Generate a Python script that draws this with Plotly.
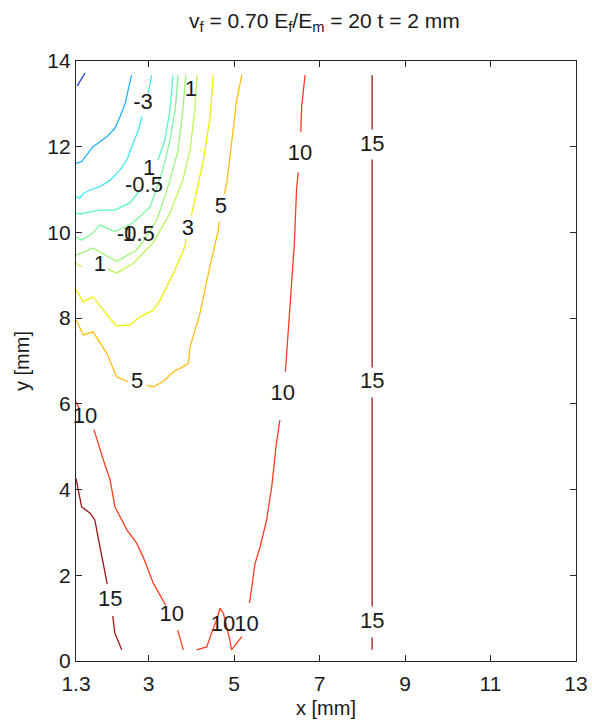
import plotly.graph_objects as go

# ---- contour polylines (x, y in mm); None breaks a line where its label sits ----
lvl_m5_x = [1.33, 1.42, 1.51]
lvl_m5_y = [13.42, 13.56, 13.72]

lvl_m4_x = [2.60, 2.52, 2.45, 2.33, 2.21, 2.02, 1.86, 1.70, 1.55, 1.43, 1.30]
lvl_m4_y = [13.67, 13.32, 13.01, 12.70, 12.43, 12.23, 12.12, 12.00, 11.81, 11.65, 11.61]

lvl_m3_x = [3.07, 2.99, None, 2.84, 2.76, 2.64, 2.49, 2.33, 2.10, 1.86, 1.63, 1.47, 1.39, 1.30]
lvl_m3_y = [13.67, 13.25, None, 12.70, 12.39, 12.08, 11.69, 11.46, 11.22, 11.07, 10.99, 10.91, 10.80, 10.83]

lvl_m1_x = [3.57, 3.50, 3.38, 3.22, None, 2.80, 2.63, 2.56, 2.21, 1.86, 1.63, 1.39, 1.30]
lvl_m1_y = [13.67, 12.86, 12.16, 11.69, None, 10.99, 10.76, 10.69, 10.52, 10.52, 10.48, 10.43, 10.45]

lvl_m05_x = [3.69, 3.62, 3.50, 3.36, 3.22, 3.03, 2.63, 2.21, 1.86, 1.70, 1.44, 1.30]
lvl_m05_y = [13.67, 12.86, 12.16, 11.57, 11.11, 10.59, 10.22, 10.02, 10.17, 9.99, 9.82, 9.89]

lvl_05_x = [3.87, 3.80, 3.69, 3.50, 3.31, 3.19, 2.95, 2.72, 2.25, 1.70, 1.30]
lvl_05_y = [13.67, 12.86, 11.92, 11.22, 10.64, 10.29, 9.90, 9.59, 9.32, 9.64, 9.47]

lvl_1_x = [4.13, 4.08, 3.97, 3.80, 3.62, 3.50, 3.10, 2.64, 2.25, 2.05, None, 1.43, 1.30]
lvl_1_y = [13.67, 12.86, 11.92, 11.22, 10.76, 10.45, 9.75, 9.28, 9.05, 9.15, None, 9.20, 9.28]

lvl_3_x = [4.51, 4.44, 4.28, 4.12, 4.00, None, 3.87, 3.85, 3.58, 3.27, 3.11, 2.80, 2.56, 2.25, 2.06, 1.70, 1.47, 1.30]
lvl_3_y = [13.67, 12.70, 11.69, 10.91, 10.40, None, 9.85, 9.67, 9.05, 8.42, 8.19, 8.03, 7.84, 7.82, 8.03, 8.50, 8.38, 8.66]

lvl_5_x = [5.18, 5.06, 4.94, 4.83, 4.77, None, 4.65, 4.63, 4.40, 4.20, 3.97, 3.93, 3.81, 3.58, 3.34, 3.11, 2.95,
           None, 2.52, 2.25, 2.02, 1.70, 1.47, 1.30]
lvl_5_y = [13.67, 13.09, 12.09, 11.15, 10.90, None, 10.25, 10.06, 9.05, 8.11, 7.33, 6.95, 6.87, 6.75, 6.52, 6.40, 6.43,
           None, 6.52, 6.63, 7.18, 7.68, 7.61, 7.96]

lvl_10a_x = [6.66, 6.58, 6.56, None, 6.50, 6.46, 6.41, 6.31, 6.20, None, 6.07, 5.99, 5.88, 5.76, 5.61, 5.49, 5.36,
             None, 5.18, 5.06, 4.94, 4.90, 4.83, 4.75, 4.67, 4.59, 4.47, 4.36, 4.12]
lvl_10a_y = [13.67, 12.93, 12.35, None, 11.40, 10.99, 9.75, 8.42, 6.75, None, 5.62, 5.08, 4.07, 3.29, 2.67, 2.28, 1.35,
             None, 0.57, 0.41, 0.26, 0.49, 0.80, 1.11, 1.23, 0.96, 0.65, 0.33, 0.26]

lvl_10b_x = [3.81, 3.68, None, 3.40, 3.11, 2.87, 2.72, 2.49, 2.21, 2.10, 1.94, 1.72, None, 1.39, 1.30]
lvl_10b_y = [0.26, 0.72, None, 1.30, 1.81, 2.43, 2.75, 3.06, 3.60, 4.22, 4.69, 5.40, None, 5.86, 6.05]

lvl_15a_x = [8.23, 8.23, None, 8.23, 8.23, None, 8.23, 8.23, None, 8.23, 8.23]
lvl_15a_y = [13.67, 12.40, None, 11.70, 6.85, None, 6.15, 1.27, None, 0.55, 0.26]

lvl_15b_x = [1.30, 1.43, 1.63, 1.74, 1.86, 1.98, 2.03, None, 2.16, 2.21, 2.37]
lvl_15b_y = [4.26, 3.60, 3.45, 3.29, 2.67, 2.05, 1.80, None, 1.05, 0.65, 0.26]

# ---- inline contour labels ----
label_text = ["-3", "1", "-0.5", "-0.5", "1", "1", "1", "3", "5", "5",
              "10", "10", "10", "10", "10", "10", "15", "15", "15", "15"]
label_x = [2.87, 3.01, 2.89, 2.70, 2.54, 1.86, 3.99, 3.92, 4.69, 2.73,
           6.54, 6.14, 1.51, 3.54, 4.74, 5.29, 8.23, 8.23, 8.23, 2.10]
label_y = [13.00, 11.46, 11.08, 9.92, 9.92, 9.22, 13.32, 10.06, 10.59, 6.49,
           11.81, 6.21, 5.69, 1.07, 0.84, 0.82, 12.04, 6.49, 0.91, 1.42]

# ---- axis ticks ----
x_ticks = [1.3, 3, 5, 7, 9, 11, 13]
x_tick_text = ["1.3", "3", "5", "7", "9", "11", "13"]
y_ticks = [0, 2, 4, 6, 8, 10, 12, 14]

lines = [
    (lvl_m5_x, lvl_m5_y, "#1f3cf5"),
    (lvl_m4_x, lvl_m4_y, "#22b2ff"),
    (lvl_m3_x, lvl_m3_y, "#3eeaf0"),
    (lvl_m1_x, lvl_m1_y, "#5ef5c0"),
    (lvl_m05_x, lvl_m05_y, "#7ff59c"),
    (lvl_05_x, lvl_05_y, "#9ef57a"),
    (lvl_1_x, lvl_1_y, "#bff55a"),
    (lvl_3_x, lvl_3_y, "#eef000"),
    (lvl_5_x, lvl_5_y, "#ffbe10"),
    (lvl_10a_x, lvl_10a_y, "#ff3c22"),
    (lvl_10b_x, lvl_10b_y, "#ff3c22"),
    (lvl_15a_x, lvl_15a_y, "#9c1414"),
    (lvl_15b_x, lvl_15b_y, "#9c1414"),
]

FONT = "Liberation Sans, Arial, sans-serif"
AX = "#262626"

fig = go.Figure()
for xs, ys, col in lines:
    fig.add_trace(go.Scatter(x=xs, y=ys, mode="lines", connectgaps=False,
                             line=dict(color=col, width=1.3), hoverinfo="skip"))

fig.add_trace(go.Scatter(x=label_x, y=label_y, mode="text", text=label_text,
                         textposition="middle center",
                         textfont=dict(family=FONT, size=22, color="#1a1a1a"),
                         hoverinfo="skip", cliponaxis=False))

fig.update_layout(
    width=592, height=724,
    margin=dict(l=76, r=16, t=61, b=63),
    paper_bgcolor="white", plot_bgcolor="white",
    showlegend=False,
    font=dict(family=FONT, size=21, color="#1a1a1a"),
    title=dict(text="v<sub>f</sub> = 0.70 E<sub>f</sub>/E<sub>m</sub> = 20 t = 2 mm",
               x=0.548, xanchor="center", y=0.972, yanchor="middle",
               font=dict(family=FONT, size=21, color="#1a1a1a")),
)
fig.update_xaxes(range=[1.3, 13], tickvals=x_ticks, ticktext=x_tick_text, automargin=False,
                 showgrid=False, zeroline=False, showline=True, linecolor=AX, linewidth=1.3,
                 mirror="allticks", ticks="inside", ticklen=6, tickcolor=AX, tickwidth=1.3,
                 ticklabelstandoff=4,
                 title=dict(text="x [mm]", standoff=6, font=dict(size=20)))
fig.update_yaxes(range=[0, 14], tickvals=y_ticks, automargin=False,
                 showgrid=False, zeroline=False, showline=True, linecolor=AX, linewidth=1.3,
                 mirror="allticks", ticks="inside", ticklen=6, tickcolor=AX, tickwidth=1.3,
                 title=dict(text="y [mm]", standoff=12, font=dict(size=20)))

fig.write_html("out.html")
